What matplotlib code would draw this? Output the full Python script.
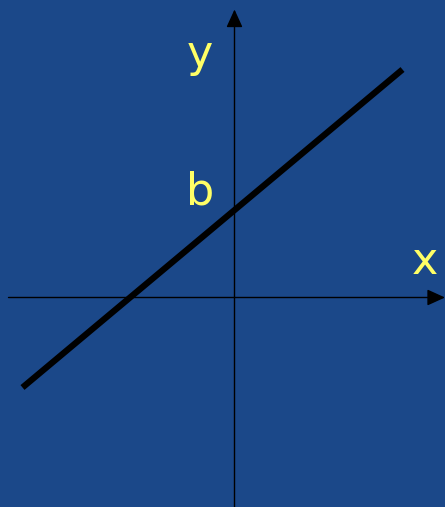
import matplotlib.pyplot as plt

# line y = m*x + b, in pixel-like units with the origin at the axes crossing
line_x = [-212, 168]
line_y = [-90, 228]

labels = ["y", "b", "x"]
label_x = [-35, -34, 190]
label_y = [231, 93, 23]

BG = "#1b4889"
YELLOW = "#ffff66"

fig = plt.figure(figsize=(4.45, 5.07), dpi=100)
fig.patch.set_facecolor(BG)
ax = fig.add_axes([0, 0, 1, 1])
ax.set_facecolor(BG)
ax.set_xlim(-234.5, 210.5)
ax.set_ylim(-209.5, 297.5)
ax.axis("off")

# axes with arrowheads
ax.annotate("", xy=(210.5, 0), xytext=(-226, 0),
            arrowprops=dict(arrowstyle="-|>,head_length=1.1,head_width=0.5",
                            color="black", lw=1, shrinkA=0, shrinkB=0))
ax.annotate("", xy=(0, 288), xytext=(0, -209.5),
            arrowprops=dict(arrowstyle="-|>,head_length=1.1,head_width=0.5",
                            color="black", lw=1, shrinkA=0, shrinkB=0))

ax.plot(line_x, line_y, color="black", lw=4.5, solid_capstyle="butt")

for s, tx, ty in zip(labels, label_x, label_y):
    ax.text(tx, ty, s, color=YELLOW, fontsize=32, ha="center",
            va="baseline", family="DejaVu Sans")

fig.savefig("out.png", dpi=100, facecolor=BG)
